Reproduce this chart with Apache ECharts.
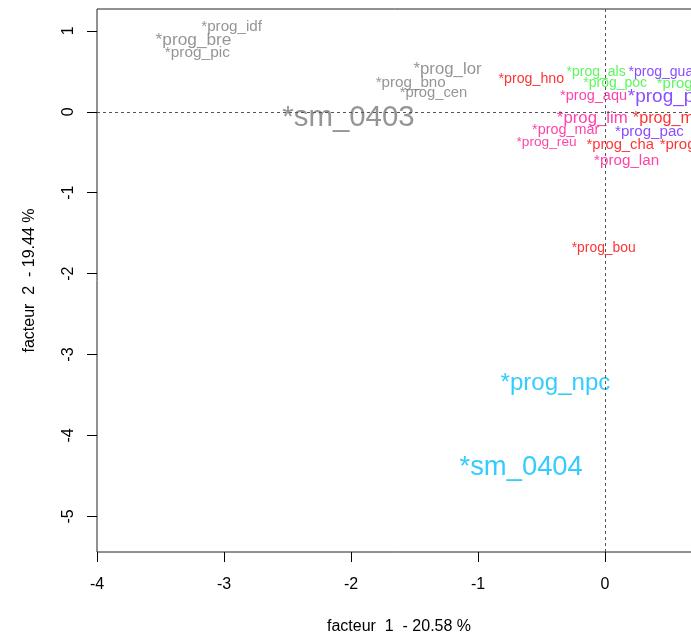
<!DOCTYPE html>
<html>
<head>
<meta charset="utf-8">
<script src="https://cdn.jsdelivr.net/npm/echarts@6/dist/echarts.min.js"></script>
<style>
  html, body { margin: 0; padding: 0; background: #fff; }
  #main { width: 691px; height: 639px; }
</style>
</head>
<body>
<div id="main"></div>
<script>
// factor scores (axis 1, axis 2)
const labels = [
  "*prog_idf", "*prog_bre", "*prog_pic", "*sm_0403", "*prog_lor", "*prog_bno", "*prog_cen",
  "*prog_hno", "*prog_als", "*prog_gua", "*prog_poc", "*prog_fco", "*prog_aqu", "*prog_pdl",
  "*prog_lim", "*prog_mip", "*prog_mar", "*prog_pac", "*prog_reu", "*prog_cha", "*prog_rha",
  "*prog_lan", "*prog_bou", "*prog_npc", "*sm_0404"
];
const xs = [
  -2.94, -3.24, -3.21, -2.02, -1.24, -1.53, -1.35,
  -0.58, -0.07, 0.44, 0.08, 0.66, -0.09, 0.50,
  -0.10, 0.51, -0.31, 0.35, -0.46, 0.12, 0.69,
  0.17, -0.01, -0.39, -0.66
];
const ys = [
  1.05, 0.88, 0.73, -0.07, 0.52, 0.36, 0.23,
  0.40, 0.49, 0.49, 0.35, 0.35, 0.19, 0.19,
  -0.08, -0.08, -0.23, -0.25, -0.38, -0.41, -0.41,
  -0.60, -1.69, -3.35, -4.39
];
const groups = [
  "grey", "grey", "grey", "grey", "grey", "grey", "grey",
  "red", "green", "purple", "green", "green", "pink", "purple",
  "pink", "red", "pink", "purple", "pink", "red", "red",
  "pink", "red", "cyan", "cyan"
];
// character expansion of each label (quality of representation)
const cex = [
  1.27, 1.44, 1.28, 2.45, 1.40, 1.27, 1.23,
  1.18, 1.17, 1.17, 1.17, 1.25, 1.21, 1.58,
  1.40, 1.35, 1.20, 1.26, 1.14, 1.23, 1.25,
  1.27, 1.16, 2.01, 2.28
];
const xTicks = [-4, -3, -2, -1, 0];
const yTicks = [-5, -4, -3, -2, -1, 0, 1];

const groupColors = {
  grey: "#7a7a7a",
  red: "#ff0000",
  green: "#36f536",
  purple: "#6a22ff",
  pink: "#ff1493",
  cyan: "#00bfff"
};
const groupOrder = ["grey", "red", "green", "purple", "pink", "cyan"];
const font = "Liberation Sans, Arial, sans-serif";

const chart = echarts.init(document.getElementById("main"));

const series = groupOrder.map(function (g) {
  const pts = [];
  labels.forEach(function (lab, i) {
    if (groups[i] !== g) return;
    pts.push({
      name: lab,
      value: [xs[i], ys[i]],
      label: { fontSize: Math.round(12 * cex[i] * 10) / 10 }
    });
  });
  return {
    type: "scatter",
    name: g,
    data: pts,
    symbol: "circle",
    symbolSize: 1,
    silent: true,
    clip: false,
    itemStyle: { color: "rgba(0,0,0,0)" },
    label: {
      show: true,
      position: "inside",
      formatter: "{b}",
      color: groupColors[g],
      fontFamily: font
    }
  };
});

// dashed reference lines through the origin
series.push({
  type: "scatter",
  data: [],
  silent: true,
  markLine: {
    silent: true,
    symbol: "none",
    label: { show: false },
    lineStyle: { color: "#555", width: 1, type: [3, 3] },
    data: [{ xAxis: 0 }, { yAxis: 0 }]
  }
});

chart.setOption({
  animation: false,
  backgroundColor: "#fff",
  grid: {
    show: true,
    left: 97,
    top: 9,
    bottom: 87,
    width: 604,
    outerBoundsMode: "none",
    containLabel: false,
    borderColor: "#222",
    borderWidth: 1
  },
  xAxis: {
    type: "value",
    min: -4,
    max: 0.756,
    name: "facteur  1  - 20.58 %",
    nameLocation: "middle",
    nameGap: 67,
    nameTextStyle: { fontSize: 16, color: "#000", fontFamily: font, verticalAlign: "top" },
    axisLine: { show: false, onZero: false },
    splitLine: { show: false },
    axisTick: { show: true, length: 10, customValues: xTicks, lineStyle: { color: "#000" } },
    axisLabel: {
      customValues: xTicks,
      fontSize: 16,
      color: "#000",
      fontFamily: font,
      margin: 25,
      showMinLabel: true,
      showMaxLabel: true
    }
  },
  yAxis: {
    type: "value",
    min: -5.44,
    max: 1.27,
    name: "facteur  2  - 19.44 %",
    nameLocation: "middle",
    nameGap: 59,
    nameTextStyle: { fontSize: 16, color: "#000", fontFamily: font },
    axisLine: { show: false, onZero: false },
    splitLine: { show: false },
    axisTick: { show: true, length: 10, customValues: yTicks, lineStyle: { color: "#000" } },
    axisLabel: {
      customValues: yTicks,
      rotate: 90,
      fontSize: 16,
      color: "#000",
      fontFamily: font,
      margin: 20,
      showMinLabel: true,
      showMaxLabel: true
    }
  },
  series: series
});
</script>
</body>
</html>
